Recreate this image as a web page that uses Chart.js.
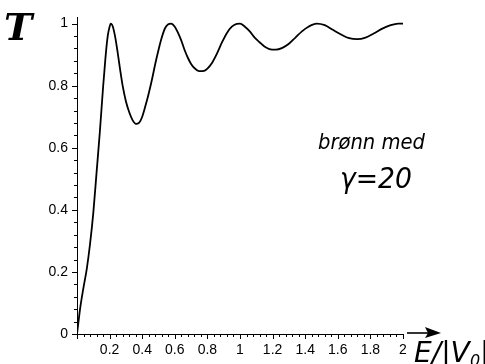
<!DOCTYPE html>
<html>
<head>
<meta charset="utf-8">
<script src="https://cdn.jsdelivr.net/npm/chart.js@4/dist/chart.umd.min.js"></script>
<style>
  html, body { margin: 0; padding: 0; background: #fff; }
  #wrap { width: 485px; height: 364px; }
</style>
</head>
<body>
<div id="wrap"><canvas id="mychart" width="485" height="364"></canvas></div>
<script>
// E/|V0| values
const energy = [
  0, 0.02, 0.04, 0.06, 0.08, 0.10, 0.12, 0.14, 0.16, 0.17, 0.18, 0.19, 0.20, 0.207,
  0.22, 0.235, 0.25, 0.265, 0.28, 0.30, 0.32, 0.34, 0.362, 0.38, 0.40, 0.42, 0.44, 0.46, 0.48,
  0.50, 0.52, 0.54, 0.56, 0.577, 0.60, 0.62, 0.64, 0.66, 0.68, 0.70, 0.72, 0.75, 0.78,
  0.80, 0.83, 0.86, 0.89, 0.92, 0.95, 0.98, 1.00, 1.03, 1.06, 1.09, 1.12, 1.15, 1.18,
  1.22, 1.26, 1.30, 1.34, 1.38, 1.42, 1.47, 1.52, 1.57, 1.62, 1.67, 1.72, 1.77, 1.82,
  1.87, 1.92, 1.97, 2.00
];
// transmission T
const transmission = [
  0, 0.085, 0.15, 0.21, 0.29, 0.39, 0.52, 0.65, 0.795, 0.86, 0.92, 0.965, 0.99, 1.0,
  0.99, 0.955, 0.905, 0.85, 0.80, 0.75, 0.715, 0.69, 0.677, 0.68, 0.70, 0.735, 0.775, 0.82, 0.87,
  0.915, 0.955, 0.985, 0.998, 1.0, 0.99, 0.97, 0.945, 0.915, 0.89, 0.87, 0.857, 0.847, 0.848,
  0.855, 0.875, 0.905, 0.94, 0.97, 0.99, 0.999, 1.0, 0.99, 0.975, 0.955, 0.94, 0.926, 0.918,
  0.916, 0.922, 0.935, 0.955, 0.975, 0.99, 1.0, 0.995, 0.98, 0.965, 0.953, 0.95, 0.955, 0.968,
  0.983, 0.994, 1.0, 1.0
];
const xTickLabels = ['0.2', '0.4', '0.6', '0.8', '1', '1.2', '1.4', '1.6', '1.8', '2'];
const yTickLabels = ['0', '0.2', '0.4', '0.6', '0.8', '1'];

const tickFont = { family: '"Liberation Sans", Arial, sans-serif', size: 14 };
const isMajor = v => Math.abs(v * 5 - Math.round(v * 5)) < 1e-6;

// minor/major tick marks, axis arrow and the handwritten notes
const decor = {
  id: 'decor',
  afterDraw(chart) {
    const c = chart.ctx;
    const xs = chart.scales.x, ys = chart.scales.y;
    const x0 = xs.getPixelForValue(0), y0 = ys.getPixelForValue(0);
    c.save();
    c.strokeStyle = '#000';
    c.lineWidth = 1;
    c.beginPath();
    xs.ticks.forEach(t => {
      const px = Math.round(xs.getPixelForValue(t.value)) + 0.5;
      c.moveTo(px, y0);
      c.lineTo(px, y0 + (isMajor(t.value) ? 5 : 3));
    });
    ys.ticks.forEach(t => {
      const py = Math.round(ys.getPixelForValue(t.value)) + 0.5;
      c.moveTo(x0, py);
      c.lineTo(x0 - (isMajor(t.value) ? 5 : 3), py);
    });
    c.stroke();

    // arrow after the x axis
    const ax = xs.getPixelForValue(2) + 4;
    c.lineWidth = 1.6;
    c.beginPath();
    c.moveTo(ax, y0 - 1);
    c.lineTo(ax + 22, y0 - 1);
    c.stroke();
    c.fillStyle = '#000';
    c.beginPath();
    c.moveTo(ax + 34, y0 - 1);
    c.lineTo(ax + 18, y0 - 7);
    c.lineTo(ax + 21, y0 - 1);
    c.lineTo(ax + 18, y0 + 4);
    c.closePath();
    c.fill();

    c.fillStyle = '#000';
    c.textBaseline = 'alphabetic';
    c.textAlign = 'left';
    c.font = 'italic bold 38px "DejaVu Serif", serif';
    c.fillText('T', 4, 40);
    c.font = 'italic 22px "DejaVu Sans", sans-serif';
    c.fillText('brønn med', 318, 149, 107);
    c.font = 'italic 28px "DejaVu Sans", sans-serif';
    c.fillText('γ=20', 340, 188, 72);
    c.font = 'italic 28px "DejaVu Sans", sans-serif';
    c.fillText('E/|V', 414, 362, 62);
    c.font = 'italic 16px "DejaVu Sans", sans-serif';
    c.fillText('0', 470, 366);
    c.font = 'italic 28px "DejaVu Sans", sans-serif';
    c.fillText('|', 480, 362);
    c.restore();
  }
};

const ctx = document.getElementById('mychart').getContext('2d');
const myChart = new Chart(ctx, {
  type: 'line',
  data: {
    datasets: [{
      data: energy.map((e, i) => ({ x: e, y: transmission[i] })),
      borderColor: '#000',
      borderWidth: 1.8,
      pointRadius: 0,
      cubicInterpolationMode: 'monotone',
      fill: false
    }]
  },
  options: {
    responsive: false,
    animation: false,
    layout: { padding: { left: 0, right: 82, top: 13, bottom: 0 } },
    plugins: { legend: { display: false }, tooltip: { enabled: false } },
    scales: {
      x: {
        type: 'linear',
        min: 0,
        max: 2,
        afterFit: s => { s.height = 30; },
        border: { display: true, color: '#000', width: 1 },
        grid: { display: false, drawTicks: false },
        ticks: {
          stepSize: 0.04,
          autoSkip: false,
          maxRotation: 0,
          includeBounds: false,
          padding: 8,
          color: '#000',
          font: tickFont,
          callback: v => (isMajor(v) && v > 0.01) ? xTickLabels[Math.round(v * 5) - 1] : ''
        }
      },
      y: {
        min: 0,
        max: 1.02,
        afterFit: s => { s.width = 77; },
        border: { display: true, color: '#000', width: 1 },
        grid: { display: false, drawTicks: false },
        ticks: {
          stepSize: 0.04,
          autoSkip: false,
          includeBounds: false,
          padding: 9,
          color: '#000',
          font: tickFont,
          callback: v => isMajor(v) ? yTickLabels[Math.round(v * 5)] : ''
        }
      }
    }
  },
  plugins: [decor]
});
</script>
</body>
</html>
